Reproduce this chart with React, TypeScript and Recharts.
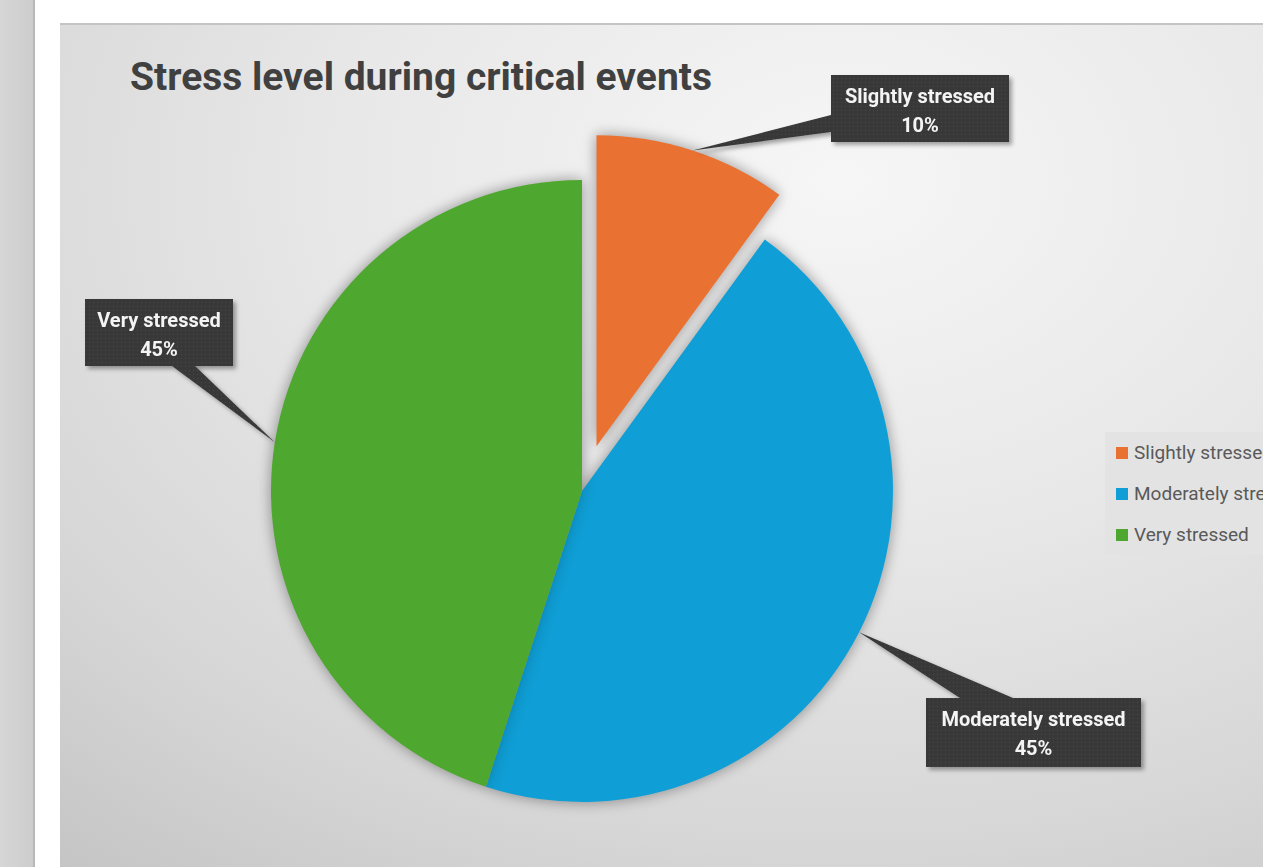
import { PieChart, Pie, Cell, Legend } from 'recharts'

const categories = ['Slightly stressed', 'Moderately stressed', 'Very stressed']
const shares = [10, 45, 45]
const colors = ['#E97132', '#0F9ED5', '#4EA72E']

const data = categories.map((name, i) => ({ name, value: shares[i] }))

const W = 1203
const H = 842
const CX = 522
const CY = 466
const R = 311
const EXPLODE = 47
const FONT = 'Roboto, "Open Sans", sans-serif'
const RAD = Math.PI / 180

// exploded slice (first category) is pushed out along its own mid angle
const total = shares.reduce((a, b) => a + b, 0)
const explodeDeg = (360 * shares[0]) / 2 / total
const ECX = CX + EXPLODE * Math.sin(explodeDeg * RAD)
const ECY = CY - EXPLODE * Math.cos(explodeDeg * RAD)

// callout boxes: box rect plus the two points where the pointer leaves the box
const callouts: Record<string, { x: number; y: number; w: number; h: number; base: number[] }> = {
  'Slightly stressed': { x: 771, y: 50, w: 178, h: 67, base: [0, 40, 0, 57] },
  'Moderately stressed': { x: 866, y: 673, w: 215, h: 69, base: [34, 0, 87, 0] },
  'Very stressed': { x: 25, y: 274, w: 148, h: 67, base: [87, 67, 110, 67] },
}

function makeLabel(show: number[]) {
  return (p: any) => {
    if (!show.includes(p.index)) return null
    const c = callouts[p.name]
    if (!c) return null
    const tx = p.cx + p.outerRadius * Math.cos(-p.midAngle * RAD)
    const ty = p.cy + p.outerRadius * Math.sin(-p.midAngle * RAD)
    const b = c.base
    const pct = `${Math.round(p.percent * 100)}%`
    return (
      <g filter="url(#calloutShadow)">
        <polygon points={`${c.x + b[0]},${c.y + b[1]} ${tx},${ty} ${c.x + b[2]},${c.y + b[3]}`} fill="url(#calloutTex)" />
        <rect x={c.x} y={c.y} width={c.w} height={c.h} fill="url(#calloutTex)" />
        <text x={c.x + c.w / 2} y={c.y + 28} textAnchor="middle" fill="#f4f4f4" fontSize={20} fontWeight={700} fontFamily={FONT}>
          {p.name}
        </text>
        <text x={c.x + c.w / 2} y={c.y + 57} textAnchor="middle" fill="#f4f4f4" fontSize={20} fontWeight={700} fontFamily={FONT}>
          {pct}
        </text>
      </g>
    )
  }
}

function renderLegend() {
  return (
    <div style={{ background: '#e3e3e3', width: 220, height: 123, paddingLeft: 11, boxSizing: 'border-box' }}>
      {categories.map((c, i) => (
        <div key={c} style={{ display: 'flex', alignItems: 'center', height: 41 }}>
          <span style={{ width: 12, height: 12, background: colors[i], marginRight: 6, flex: 'none' }} />
          <span style={{ fontSize: 19, color: '#595959', whiteSpace: 'nowrap', fontFamily: FONT }}>{c}</span>
        </div>
      ))}
    </div>
  )
}

export default function App() {
  return (
    <div style={{ position: 'fixed', left: 0, top: 0, width: 1263, height: 867, overflow: 'hidden', background: '#fff' }}>
      <style>{`.pie-shadow { filter: drop-shadow(0px 0px 7px rgba(0,0,0,0.2)); }`}</style>

      {/* page furniture around the chart */}
      <div style={{ position: 'absolute', left: 0, top: 0, width: 33, height: 867, background: 'linear-gradient(90deg, #d6d6d6, #cdcdcd)' }} />
      <div style={{ position: 'absolute', left: 33, top: 0, width: 2, height: 867, background: '#b8b8b8' }} />

      <div
        style={{
          position: 'absolute',
          left: 60,
          top: 25,
          width: W,
          height: H,
          background: 'radial-gradient(ellipse 1250px 900px at 780px 155px, #f6f6f6 0%, #e8e8e8 40%, #d6d6d6 75%, #c4c4c4 100%)',
        }}
      >
        <div style={{ position: 'absolute', left: 0, top: -2, width: W, height: 2, background: '#c4c4c4' }} />
        <PieChart width={W} height={H} margin={{ top: 0, right: 0, bottom: 0, left: 0 }}>
          <defs>
            <pattern id="calloutTex" width="4" height="4" patternUnits="userSpaceOnUse">
              <rect width="4" height="4" fill="#393939" />
              <rect x="1" y="1" width="1" height="1" fill="#4a4a4a" />
            </pattern>
            <filter id="calloutShadow" x="-30%" y="-30%" width="160%" height="160%">
              <feDropShadow dx="3" dy="3" stdDeviation="2" floodColor="#000" floodOpacity="0.35" />
            </filter>
          </defs>
          <Pie
            className="pie-shadow"
            data={data}
            dataKey="value"
            nameKey="name"
            cx={CX}
            cy={CY}
            outerRadius={R}
            startAngle={90}
            endAngle={-270}
            stroke="none"
            label={makeLabel([1, 2])}
            labelLine={false}
            isAnimationActive={false}
          >
            {data.map((d, i) => (
              <Cell key={d.name} fill={i === 0 ? 'transparent' : colors[i]} />
            ))}
          </Pie>
          <Pie
            className="pie-shadow"
            data={data}
            dataKey="value"
            nameKey="name"
            cx={ECX}
            cy={ECY}
            outerRadius={R}
            startAngle={90}
            endAngle={-270}
            stroke="none"
            label={makeLabel([0])}
            labelLine={false}
            legendType="none"
            isAnimationActive={false}
          >
            {data.map((d, i) => (
              <Cell key={d.name} fill={i === 0 ? colors[0] : 'transparent'} />
            ))}
          </Pie>
          <Legend
            layout="vertical"
            verticalAlign="middle"
            align="right"
            content={renderLegend}
            wrapperStyle={{ left: 1045, top: 407, right: 'auto', width: 220, height: 123 }}
          />
        </PieChart>
        <svg width={W} height={120} style={{ position: 'absolute', left: 0, top: 0, pointerEvents: 'none' }}>
          <text x={70} y={65} fontSize={38} fontWeight={700} fill="#404040" fontFamily={FONT} textLength={582} lengthAdjust="spacingAndGlyphs">
            Stress level during critical events
          </text>
        </svg>
      </div>
    </div>
  )
}
